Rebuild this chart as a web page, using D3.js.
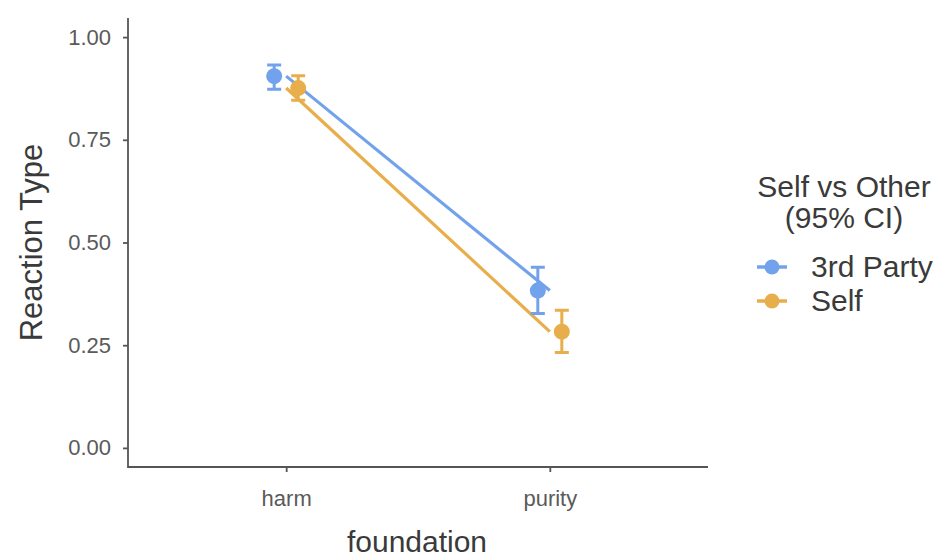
<!DOCTYPE html>
<html>
<head>
<meta charset="utf-8">
<script src="https://cdn.jsdelivr.net/npm/d3@7"></script>
<style>
  body { margin: 0; background: #fff; }
  text { font-family: "Liberation Sans", Arial, sans-serif; }
</style>
</head>
<body>
<div id="chart"></div>
<script>
// Categories and series
const foundations = ['harm', 'purity'];
const groups = ['3rd Party', 'Self'];
const groupColors = ['#72a2eb', '#e8ae4b'];

// Means and 95% CI per group, in foundation order
const means = {'3rd Party': [0.905, 0.383], 'Self': [0.876, 0.283]};
const lower = {'3rd Party': [0.873, 0.327], 'Self': [0.846, 0.232]};
const upper = {'3rd Party': [0.932, 0.440], 'Self': [0.906, 0.335]};

const yTicks = [0, 0.25, 0.5, 0.75, 1];

const width = 939;
const height = 559;

const svg = d3.select('#chart')
  .append('svg')
  .attr('width', width)
  .attr('height', height);

// Panel box
const panel = {left: 128, right: 708, top: 18, bottom: 467};

const y = d3.scaleLinear()
  .domain([-0.0465, 1.0465])
  .range([panel.bottom, panel.top]);

// Discrete axis with ggplot-ish 0.6 expansion each side
const x = d3.scaleLinear()
  .domain([0.4, 2.6])
  .range([panel.left, panel.right]);
const xPos = f => x(foundations.indexOf(f) + 1);

const dodge = d3.scaleBand()
  .domain(groups)
  .range([-24, 24])
  .padding(0);
const color = d3.scaleOrdinal(groups, groupColors);

// Axes
const axisCol = '#555';
const yAxis = svg.append('g')
  .attr('transform', `translate(${panel.left},0)`)
  .call(d3.axisLeft(y).tickValues(yTicks).tickFormat(d3.format('.2f')).tickSize(5).tickPadding(12));
const xAxis = svg.append('g')
  .attr('transform', `translate(0,${panel.bottom})`)
  .call(d3.axisBottom(x).tickValues([1, 2]).tickFormat(d => foundations[d - 1]).tickSize(5).tickPadding(34));

[yAxis, xAxis].forEach(a => {
  a.select('.domain').remove();
  a.selectAll('line').attr('stroke', axisCol).attr('stroke-width', 1.8);
  a.selectAll('text').attr('fill', '#5a5a5a').style('font-size', '22px');
});
xAxis.selectAll('text').attr('dy', 0);

// Axis lines (L shaped)
svg.append('path')
  .attr('d', `M${panel.left},${panel.top} L${panel.left},${panel.bottom} L${panel.right},${panel.bottom}`)
  .attr('fill', 'none')
  .attr('stroke', axisCol)
  .attr('stroke-width', 1.8);

// Axis titles
svg.append('text')
  .text('foundation')
  .attr('x', 417)
  .attr('y', 552)
  .attr('text-anchor', 'middle')
  .attr('fill', '#3a3a3a')
  .style('font-size', '30px');
svg.append('text')
  .text('Reaction Type')
  .attr('transform', `translate(42,${(panel.top + panel.bottom) / 2}) rotate(-90)`)
  .attr('text-anchor', 'middle')
  .attr('fill', '#3a3a3a')
  .style('font-size', '31px');

// Lines through the (undodged) means
const line = d3.line()
  .x((d, i) => x(i + 1))
  .y(d => y(d));
svg.append('g')
  .selectAll('path')
  .data(groups)
  .enter()
  .append('path')
  .attr('d', g => line(means[g]))
  .attr('fill', 'none')
  .attr('stroke', g => color(g))
  .attr('stroke-width', 3.2);

// Error bars and points, dodged
groups.forEach(g => {
  const gg = svg.append('g');
  const cx = i => xPos(foundations[i]) + dodge(g) + dodge.bandwidth() / 2;
  const rows = foundations.map((f, i) => i);
  gg.selectAll('path.err')
    .data(rows)
    .enter()
    .append('path')
    .attr('class', 'err')
    .attr('d', i => `M${cx(i) - 7},${y(upper[g][i])} h14 M${cx(i)},${y(upper[g][i])} V${y(lower[g][i])} M${cx(i) - 7},${y(lower[g][i])} h14`)
    .attr('fill', 'none')
    .attr('stroke', color(g))
    .attr('stroke-width', 3);
  gg.selectAll('circle')
    .data(rows)
    .enter()
    .append('circle')
    .attr('cx', i => cx(i))
    .attr('cy', i => y(means[g][i]))
    .attr('r', 8)
    .attr('fill', color(g));
});

// Legend
const legend = svg.append('g');
legend.append('text')
  .attr('text-anchor', 'middle')
  .attr('fill', '#3a3a3a')
  .style('font-size', '30px')
  .selectAll('tspan')
  .data(['Self vs Other', '(95% CI)'])
  .enter()
  .append('tspan')
  .attr('x', 844)
  .attr('y', (d, i) => 197 + i * 31)
  .text(d => d);

const keys = legend.selectAll('g.key')
  .data(groups)
  .enter()
  .append('g')
  .attr('class', 'key')
  .attr('transform', (d, i) => `translate(772,${267 + i * 34})`);
keys.append('line')
  .attr('x1', -15).attr('x2', 15)
  .attr('stroke', d => color(d))
  .attr('stroke-width', 3.5);
keys.append('circle')
  .attr('r', 7.5)
  .attr('fill', d => color(d));
keys.append('text')
  .text(d => d)
  .attr('x', 39)
  .attr('y', 10)
  .attr('fill', '#3a3a3a')
  .style('font-size', '30px');
</script>
</body>
</html>
